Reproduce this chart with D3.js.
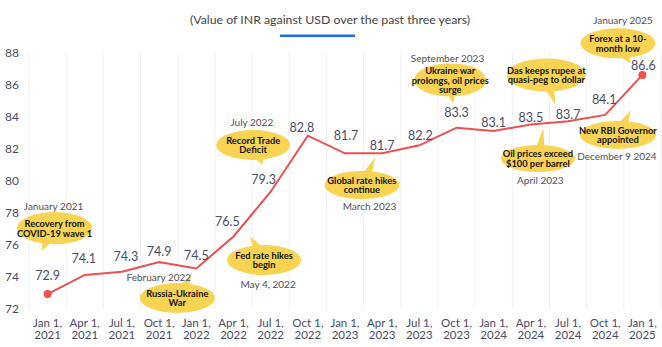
<!DOCTYPE html>
<html><head><meta charset="utf-8">
<script src="https://cdn.jsdelivr.net/npm/d3@7"></script>
<style>
body{margin:0;background:#fff}
svg{display:block}
text{font-family:'Century Gothic',Lato,'Open Sans',sans-serif}
</style>
</head><body><svg id="c" width="662" height="347"></svg>
<script>
// ---------- DATA ----------
const categories = ["Jan 1, 2021","Apr 1, 2021","Jul 1, 2021","Oct 1, 2021","Jan 1, 2022","Apr 1, 2022","Jul 1, 2022","Oct 1, 2022","Jan 1, 2023","Apr 1, 2023","Jul 1, 2023","Oct 1, 2023","Jan 1, 2024","Apr 1, 2024","Jul 1, 2024","Oct 1, 2024","Jan 1, 2025"];
const values = [72.9,74.1,74.3,74.9,74.5,76.5,79.3,82.8,81.7,81.7,82.2,83.3,83.1,83.5,83.7,84.1,86.6];
const yTicks = [72,74,76,78,80,82,84,86,88];
const titleText = "(Value of INR against USD over the past three years)";
const calloutTexts = [
  ["Recovery from","COVID-19 wave 1"],
  ["Russia-Ukraine","War"],
  ["Record Trade","Deficit"],
  ["Fed rate hikes","begin"],
  ["Global rate hikes","continue"],
  ["Ukraine war","prolongs, oil prices","surge"],
  ["Das keeps rupee at","quasi-peg to dollar"],
  ["Oil prices exceed","$100 per barrel"],
  ["Forex at a 10-","month low"],
  ["New RBI Governor","appointed"]
];
const calloutDates = ["January 2021","February 2022","July 2022","May 4, 2022","March 2023","September 2023","","April 2023","January 2025","December 9 2024"];
const calloutAnchors = [0,4,6,5,9,11,14,13,16,15];

// ---------- LAYOUT (pixel offsets relative to anchor points) ----------
const labelOffsets = [[0,-19],[-1,-16],[4,-15],[0,-11],[0,-13],[-6,-15],[-7,-12],[-6,-8],[1,-18],[0,-8],[1,-10],[0,-15],[0,-8],[0,-7],[0,-7],[-1,-15],[1,-9]];
const calloutLayout = [
  {dx:7,dy:-66,rx:37.5,ry:16,tx:-6,ty:-43,ddx:-1,ddy:-22.5},
  {dx:-19,dy:29.5,rx:37.5,ry:15,tx:-5,ty:6.5,ddx:-18.5,ddy:-21},
  {dx:-17.5,dy:-46.7,rx:37,ry:15,tx:-7.5,ty:-27,ddx:-1.3,ddy:-23.3},
  {dx:30.6,dy:23.5,rx:37,ry:15,tx:16.6,ty:0,ddx:4,ddy:24.3},
  {dx:-20.3,dy:31.7,rx:37.5,ry:14,tx:-7,ty:4,ddx:7.6,ddy:21},
  {dx:-6.3,dy:-47.7,rx:36,ry:16.5,tx:-3.3,ty:-24.4,ddx:-2.7,ddy:-21.7},
  {dx:-21.7,dy:-46.3,rx:39.5,ry:16.5,tx:-12.7,ty:-16.3,ddx:0,ddy:0},
  {dx:7,dy:34,rx:37,ry:13.5,tx:12.4,ty:3.8,ddx:2.5,ddy:21.5},
  {dx:-24.5,dy:-31.6,rx:37.5,ry:15,tx:-12,ty:-11.6,ddx:5,ddy:-23.3},
  {dx:12.7,dy:20,rx:38,ry:14,tx:25.2,ty:-5,ddx:-1,ddy:21}
];

const svg = d3.select("#c");
const textCol = "#4b4b68";
const yellow = "#f8d452";
const red = "#ef4f4f";

const x = d3.scaleBand().domain(categories).range([29, 661]).padding(0);
const cx = c => x(c) + x.bandwidth() / 2;
const y = d3.scaleLinear().domain([72, 88]).range([308.5, 52.5]);

// gridlines
const bounds = categories.map(c => x(c)).concat([x.range()[1]]);
svg.append("g").selectAll("line").data(bounds).join("line")
  .attr("x1", d => d).attr("x2", d => d)
  .attr("y1", y(88)).attr("y2", y(72) + 1)
  .attr("stroke", "#f0f0f2").attr("stroke-width", 1);

// y axis
const yAxis = svg.append("g").attr("transform", "translate(19,0)")
  .call(d3.axisLeft(y).tickValues(yTicks).tickSize(0).tickPadding(0));
yAxis.select(".domain").remove();
yAxis.selectAll("text").attr("fill", textCol).style("font-size", "12px")
  .attr("font-family", null);

// x axis
const xAxis = svg.append("g").attr("transform", `translate(0,${y(72)})`)
  .call(d3.axisBottom(x).tickSize(0).tickPadding(0));
xAxis.select(".domain").remove();
xAxis.selectAll("text").each(function(d) {
  const t = d3.select(this);
  const parts = d.split(", ");
  t.text(null).attr("y", 0).attr("dy", null).attr("fill", textCol).style("font-size", "11.5px").attr("font-family", null);
  t.append("tspan").attr("x", 0).attr("y", 18).text(parts[0] + ",");
  t.append("tspan").attr("x", 0).attr("y", 30).text(parts[1]);
});

// line
const line = d3.line().x((d, i) => cx(categories[i])).y(d => y(d));
svg.append("path").datum(values).attr("d", line)
  .attr("fill", "none").attr("stroke", red).attr("stroke-width", 2);
[0, values.length - 1].forEach(i => {
  svg.append("circle").attr("cx", cx(categories[i])).attr("cy", y(values[i])).attr("r", 4).attr("fill", red);
});

// value labels
svg.append("g").selectAll("text").data(values).join("text")
  .attr("x", (d, i) => cx(categories[i]) + labelOffsets[i][0])
  .attr("y", (d, i) => y(d) + labelOffsets[i][1])
  .attr("text-anchor", "middle").attr("dominant-baseline", "central")
  .attr("fill", textCol).style("font-size", "12.5px")
  .text(d => d.toFixed(1));

// callouts
const cg = svg.append("g");
calloutTexts.forEach((lines, k) => {
  const a = calloutAnchors[k], L = calloutLayout[k];
  const px = cx(categories[a]), py = y(values[a]);
  const bx = px + L.dx, by = py + L.dy;
  const tipX = px + L.tx, tipY = py + L.ty;
  // tail
  let ux = tipX - bx, uy = tipY - by;
  const n = Math.hypot(ux, uy); ux /= n; uy /= n;
  const s = 1 / Math.sqrt((ux / L.rx) ** 2 + (uy / L.ry) ** 2);
  const baseX = bx + ux * (s - 4), baseY = by + uy * (s - 4);
  const pxp = -uy, pyp = ux;
  cg.append("path")
    .attr("d", `M${baseX + pxp * 5},${baseY + pyp * 5}L${tipX},${tipY}L${baseX - pxp * 4},${baseY - pyp * 4}Z`)
    .attr("fill", yellow);
  cg.append("ellipse").attr("cx", bx).attr("cy", by).attr("rx", L.rx).attr("ry", L.ry).attr("fill", yellow);
  const lh = 9.8;
  lines.forEach((t, j) => {
    cg.append("text").attr("x", bx).attr("y", by + (j - (lines.length - 1) / 2) * lh)
      .attr("text-anchor", "middle").attr("dominant-baseline", "central")
      .attr("fill", "#111").style("font-size", "9.3px").style("font-weight", "bold")
      .text(t);
  });
  if (calloutDates[k]) {
    cg.append("text").attr("x", bx + L.ddx).attr("y", by + L.ddy)
      .attr("text-anchor", "middle").attr("dominant-baseline", "central")
      .attr("fill", "#505058").style("font-size", "10px")
      .text(calloutDates[k]);
  }
});

// title
svg.append("text").attr("x", 330).attr("y", 19).attr("text-anchor", "middle")
  .attr("dominant-baseline", "central").attr("fill", "#444").style("font-size", "12.3px")
  .text(titleText);
svg.append("rect").attr("x", 280).attr("y", 34.5).attr("width", 75).attr("height", 2.5).attr("fill", "#1e6fe0");
</script>
</body></html>
